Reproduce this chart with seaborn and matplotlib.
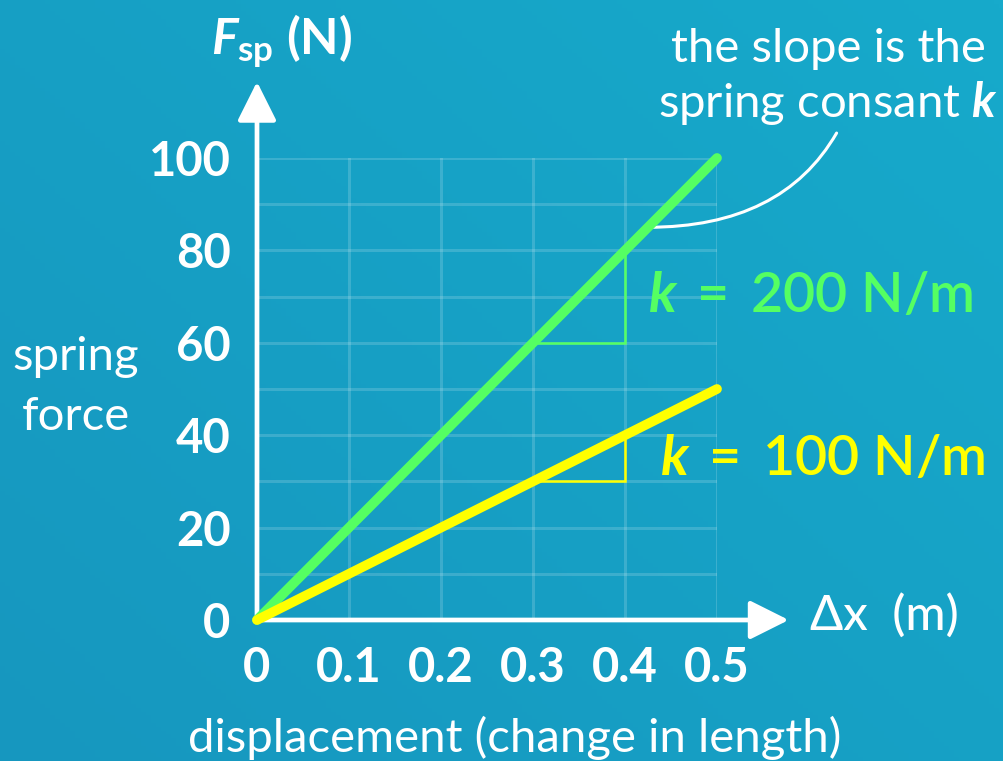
import numpy as np
import pandas as pd
import seaborn as sns
import matplotlib.pyplot as plt
from matplotlib.colors import LinearSegmentedColormap

# data
displacement = [0.0, 0.1, 0.2, 0.3, 0.4, 0.5]
force_k200 = [0, 20, 40, 60, 80, 100]
force_k100 = [0, 10, 20, 30, 40, 50]
spring_constants = [200, 100]
slope_run = [0.3, 0.4]  # little slope triangles drawn under each line

x_ticks = [0.0, 0.1, 0.2, 0.3, 0.4, 0.5]
x_tick_labels = ["0", "0.1", "0.2", "0.3", "0.4", "0.5"]
y_ticks = [0, 20, 40, 60, 80, 100]
y_tick_labels = ["0", "20", "40", "60", "80", "100"]
y_minor_ticks = [10, 30, 50, 70, 90]

GREEN = "#55FF62"
YELLOW = "#FFFF00"
BG_DARK = "#1697BF"
BG_LIGHT = "#17AACB"

sns.set_style("white")
plt.rcParams["font.family"] = ["Lato", "DejaVu Sans"]
plt.rcParams["mathtext.fontset"] = "custom"
plt.rcParams["mathtext.rm"] = "Lato:bold"
plt.rcParams["mathtext.it"] = "Lato:italic:bold"
plt.rcParams["mathtext.bf"] = "Lato:bold"


def convert_to_data_frame():
    rows = []
    for k, forces in zip(spring_constants, [force_k200, force_k100]):
        for x, f in zip(displacement, forces):
            rows.append((x, f, k))
    return pd.DataFrame(rows, columns=["x", "force", "k"])


def draw_background(fig):
    bg = fig.add_axes([0, 0, 1, 1], zorder=-10)
    cmap = LinearSegmentedColormap.from_list("bg", [BG_DARK, BG_LIGHT])
    gx, gy = np.meshgrid(np.linspace(0, 1, 200), np.linspace(0, 1, 200))
    bg.imshow(0.55 * gx + 0.45 * (1 - gy), cmap=cmap, aspect="auto",
              extent=[0, 1, 0, 1], origin="upper")
    bg.set_axis_off()


def main():
    df = convert_to_data_frame()

    fig = plt.figure(figsize=(10.04, 7.61), dpi=100)
    draw_background(fig)

    ax = fig.add_axes([257 / 1004, 141 / 761, 460 / 1004, 462 / 761])
    ax.set_facecolor("none")

    palette = {200: GREEN, 100: YELLOW}
    sns.lineplot(data=df, x="x", y="force", hue="k", palette=palette,
                 hue_order=spring_constants, linewidth=7,
                 solid_capstyle="round", legend=False, ax=ax, zorder=5,
                 clip_on=False)

    ax.set_xlim(0, 0.5)
    ax.set_ylim(0, 100)
    ax.set_xlabel("")
    ax.set_ylabel("")
    for s in ax.spines.values():
        s.set_visible(False)

    ax.set_xticks(x_ticks, labels=x_tick_labels)
    ax.set_yticks(y_ticks, labels=y_tick_labels)
    ax.set_yticks(y_minor_ticks, minor=True)
    ax.tick_params(which="major", direction="inout", length=12, width=3.5,
                   color="white", labelcolor="white", labelsize=34, pad=13)
    ax.tick_params(which="minor", length=0)
    ax.grid(True, which="both", color="white", alpha=0.16, lw=2.2)
    ax.set_axisbelow(True)

    # axis arrows
    arrow = dict(arrowstyle="-|>,head_length=24,head_width=12", color="white",
                 lw=3.4, mutation_scale=1, shrinkA=0, shrinkB=0)
    ax.annotate("", xy=(0, 116.5), xytext=(0, 0), arrowprops=arrow,
                annotation_clip=False)
    ax.annotate("", xy=(0.578, 0), xytext=(0, 0), arrowprops=arrow,
                annotation_clip=False)

    # slope triangles
    for k, color in zip(spring_constants, [GREEN, YELLOW]):
        x0, x1 = slope_run
        ax.plot([x0, x1, x1], [k * x0, k * x0, k * x1], color=color, lw=1.8,
                zorder=4, solid_joinstyle="miter")

    # labels
    ax.text(0.027, 122.3, r"$F_{\mathrm{sp}}$ (N)", color="white", fontsize=36,
            fontweight="bold", ha="center", va="baseline")
    ax.text(-0.197, 54.1, "spring", color="white", fontsize=34,
            ha="center", va="baseline")
    ax.text(-0.197, 41.1, "force", color="white", fontsize=34,
            ha="center", va="baseline")
    ax.text(0.2804, -28.6, "displacement (change in length)", color="white",
            fontsize=34, ha="center", va="baseline")
    ax.text(0.601, -2.2, "Δx  (m)", color="white", fontsize=35,
            fontweight="medium", ha="left", va="baseline")

    ax.text(0.6207, 120.8, "the slope is the", color="white", fontsize=34,
            ha="center", va="baseline")
    ax.text(0.6207, 108.9, r"spring consant $k$", color="white", fontsize=34,
            ha="center", va="baseline")

    ax.text(0.425, 66.7, r"$k\,$ = $\,$200 N/m", color=GREEN, fontsize=40,
            fontweight="semibold", ha="left", va="baseline")
    ax.text(0.438, 31.4, r"$k\,$ = $\,$100 N/m", color=YELLOW, fontsize=40,
            fontweight="semibold", ha="left", va="baseline")

    ax.annotate("", xy=(0.425, 85), xytext=(0.63, 105.4),
                arrowprops=dict(arrowstyle="-", color="white", lw=2.2,
                                shrinkA=0, shrinkB=0,
                                connectionstyle="angle3,angleA=60,angleB=0"),
                annotation_clip=False)

    # heavier digits on the axes
    for lab in ax.get_xticklabels() + ax.get_yticklabels():
        lab.set_fontweight("bold")

    fig.savefig("out.png", dpi=100)


if __name__ == "__main__":
    main()
